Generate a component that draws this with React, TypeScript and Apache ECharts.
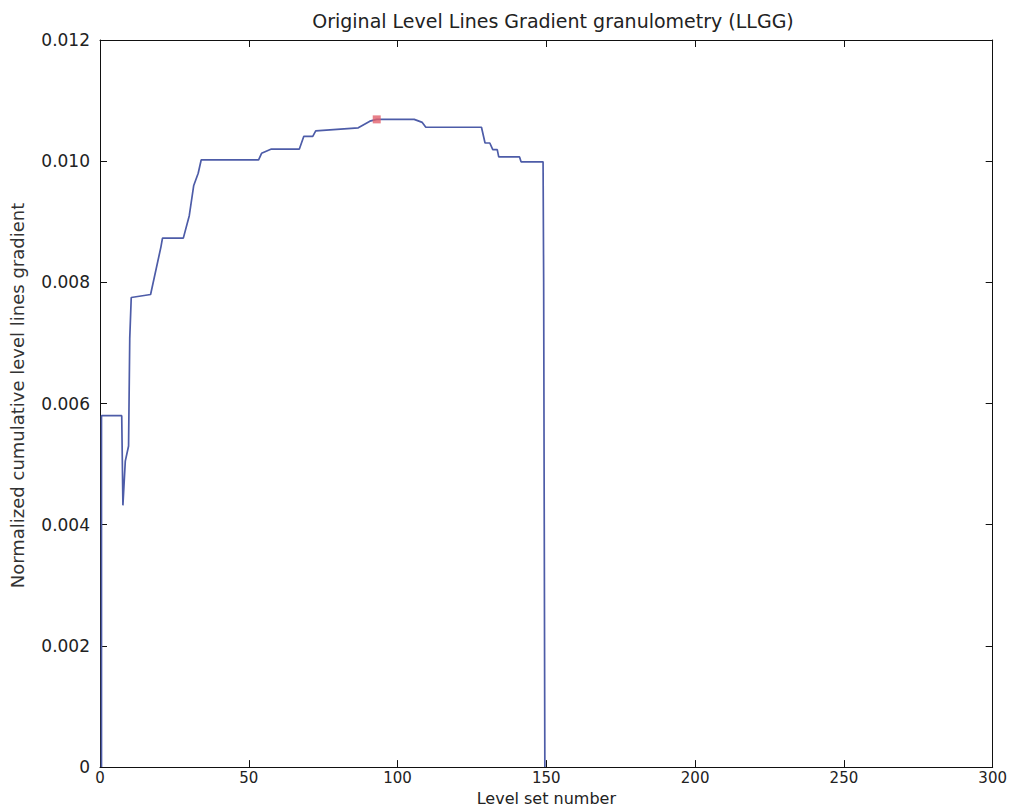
import React, { useEffect, useRef } from "react";
import * as echarts from "echarts";

const titleText = "Original Level Lines Gradient granulometry (LLGG)";
const xName = "Level set number";
const yName = "Normalized cumulative level lines gradient";

const levels = [
  0.5, 0.5, 7.3, 7.7, 8.5, 9.6, 10, 10.5, 17, 20.5, 21, 28, 30, 31.5, 33, 34,
  53.3, 54.3, 57.6, 67, 68.5, 71.5, 72.5, 86.8, 90.7, 93, 105.6, 108.3, 109.5,
  128.2, 129.4, 131, 132, 133.5, 134, 141, 141.5, 148.9, 149.1, 149.3, 149.5,
];
const gradientValues = [
  0, 0.0058, 0.0058, 0.00432, 0.00505, 0.0053, 0.00708, 0.00775, 0.0078,
  0.00859, 0.00873, 0.00873, 0.0091, 0.0096, 0.0098, 0.01002, 0.01002,
  0.01013, 0.0102, 0.0102, 0.01041, 0.01041, 0.0105, 0.01055, 0.01066,
  0.01069, 0.01069, 0.01064, 0.01056, 0.01056, 0.0103, 0.0103, 0.01019,
  0.01019, 0.01007, 0.01007, 0.00999, 0.00999, 0.008, 0.004, 0,
];
const peakLevel = [93];
const peakValue = [0.01069];

const xTicks = { min: 0, max: 300, interval: 50 };
const yTicks = { min: 0, max: 0.012, interval: 0.002 };

const FONT = "DejaVu Sans, Verdana, sans-serif";

export default function App() {
  const ref = useRef<HTMLDivElement>(null);
  useEffect(() => {
    if (!ref.current) return;
    const chart = echarts.init(ref.current, undefined, { renderer: "svg" });
    const frameAxis = {
      axisLine: { show: true, onZero: false, lineStyle: { color: "#111", width: 1 } },
      axisTick: { show: true, inside: true, length: 7, lineStyle: { color: "#111", width: 1 } },
      splitLine: { show: false },
    };
    chart.setOption({
      animation: false,
      backgroundColor: "#fff",
      title: {
        text: titleText,
        left: 548,
        textAlign: "center",
        top: 6,
        textStyle: { fontFamily: FONT, fontSize: 19, fontWeight: "normal", color: "#222" },
      },
      grid: { left: 92, right: 3, top: 40, bottom: 28, containLabel: false },
      xAxis: [
        {
          type: "value",
          position: "bottom",
          ...xTicks,
          ...frameAxis,
          axisLabel: { color: "#222", fontSize: 15, fontFamily: FONT, margin: 3 },
          name: xName,
          nameLocation: "middle",
          nameGap: 17,
          nameTextStyle: { color: "#222", fontSize: 16, fontFamily: FONT },
        },
        {
          type: "value",
          position: "top",
          ...xTicks,
          ...frameAxis,
          axisLabel: { show: false },
        },
      ],
      yAxis: [
        {
          type: "value",
          position: "left",
          ...yTicks,
          ...frameAxis,
          axisLabel: {
            color: "#222",
            fontSize: 17,
            fontFamily: FONT,
            margin: 10,
            formatter: (v: number) => (v === 0 ? "0" : v.toFixed(3)),
          },
          name: yName,
          nameLocation: "middle",
          nameGap: 74,
          nameTextStyle: { color: "#333", fontSize: 18, fontFamily: FONT, padding: [0, 0, 0, 16] },
        },
        {
          type: "value",
          position: "right",
          ...yTicks,
          ...frameAxis,
          axisLabel: { show: false },
        },
      ],
      series: [
        {
          type: "line",
          xAxisIndex: 0,
          yAxisIndex: 0,
          data: levels.map((l, i) => [l, gradientValues[i]]),
          showSymbol: false,
          lineStyle: { color: "#4d5ca8", width: 1.7 },
          z: 3,
        },
        {
          type: "scatter",
          xAxisIndex: 0,
          yAxisIndex: 0,
          data: peakLevel.map((l, i) => [l, peakValue[i]]),
          symbol: "rect",
          symbolSize: 8,
          itemStyle: { color: "#e2606c" },
          z: 4,
        },
      ],
    });
    return () => chart.dispose();
  }, []);
  return (
    <div
      ref={ref}
      style={{ position: "fixed", left: 0, top: 0, width: 1010, height: 811, background: "#fff" }}
    />
  );
}
